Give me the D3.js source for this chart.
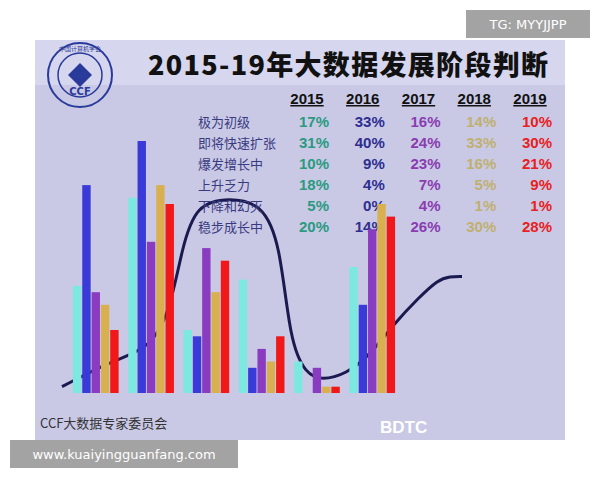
<!DOCTYPE html><html><head><meta charset="utf-8"><script src="https://cdn.jsdelivr.net/npm/d3@7"></script>
<style>body{margin:0;background:#fff}</style></head><body><svg id="c" width="600" height="480"></svg><script>
const years=["2015","2016","2017","2018","2019"];
const stages=["极为初级","即将快速扩张","爆发增长中","上升乏力","下降和幻灭","稳步成长中"];
const v2015=[17,31,10,18,5,20];
const v2016=[33,40,9,4,0,14];
const v2017=[16,24,23,7,4,26];
const v2018=[14,33,16,5,1,30];
const v2019=[10,30,21,9,1,28];
const series=[v2015,v2016,v2017,v2018,v2019];
const colors=["#7de8e0","#3a3ad8","#8a3cc0","#d8b050","#f01818"];
const textColors=["#2a9a80","#2e2e90","#8a3cb0","#c0b070","#e82020"];
const curveX=[0,0.12,0.22,0.27,0.3,0.335,0.42,0.5,0.545,0.57,0.61,0.65,0.71,0.77,0.83,0.89,0.94,0.97,1];
const curveY=[1,5,7,13,23,30,31,30,24,8,3,2,3,6,11,15,18,18.5,18.5];

const svg=d3.select("#c");
svg.append("rect").attr("x",35).attr("y",40).attr("width",530).attr("height",400).attr("fill","#c9c9e6");
svg.append("rect").attr("x",35).attr("y",40).attr("width",530).attr("height",45).attr("fill","#d6d6ee");
const lg=svg.append("g").attr("transform","translate(80,75)");
lg.append("circle").attr("r",32).attr("fill","none").attr("stroke","#2a3a9a").attr("stroke-width",2);
lg.append("circle").attr("r",22).attr("fill","none").attr("stroke","#2a3a9a").attr("stroke-width",1.5);
lg.append("path").attr("d","M-12,0L0,-12L12,0L0,12Z").attr("fill","#2a3a9a");
lg.append("text").attr("y",20).attr("text-anchor","middle").attr("font-size",10).attr("font-weight","bold").attr("fill","#2a3a9a").attr("font-family","DejaVu Sans").text("CCF");
lg.append("text").attr("y",-24).attr("text-anchor","middle").attr("font-size",6).attr("fill","#2a3a9a").attr("font-family","Noto Sans CJK SC").text("中国计算机学会");
svg.append("text").attr("x",148).attr("y",75).attr("font-size",27).attr("font-weight","900").attr("fill","#111").attr("textLength",400).attr("font-family","Noto Sans CJK SC").text("2015-19年大数据发展阶段判断");

const x0=d3.scaleBand().domain(stages).range([72,396]).paddingInner(0.14);
const x1=d3.scaleBand().domain(years).range([0,x0.bandwidth()]).padding(0.1);
const y=d3.scaleLinear().domain([0,40]).range([393,141]);
const cx=d3.scaleLinear().domain([0,1]).range([62,462]);
svg.append("path").datum(curveX.map((d,i)=>[cx(d),y(curveY[i])])).attr("d",d3.line().curve(d3.curveBasis)).attr("fill","none").attr("stroke","#1a1a50").attr("stroke-width",3);

const colX=d3.scalePoint().domain(years).range([307,530]);
const rowY=d3.scaleBand().domain(stages).range([110,236]);
years.forEach(yr=>{
  svg.append("text").attr("x",colX(yr)).attr("y",104).attr("text-anchor","middle").attr("font-size",15).attr("font-weight","bold").attr("text-decoration","underline").attr("fill","#111").attr("font-family","Liberation Sans").text(yr);
});
stages.forEach((s,i)=>{
  const yy=rowY(s)+rowY.bandwidth()-4;
  svg.append("text").attr("x",198).attr("y",yy).attr("font-size",13).attr("fill","#3a3a80").attr("font-family","Noto Sans CJK SC").text(s);
  years.forEach((yr,j)=>{
    svg.append("text").attr("x",colX(yr)+22).attr("y",yy).attr("text-anchor","end").attr("font-size",15).attr("font-weight","bold").attr("fill",textColors[j]).attr("font-family","Liberation Sans").text(series[j][i]+"%");
  });
});
stages.forEach((s,i)=>{
  years.forEach((yr,j)=>{
    const v=series[j][i];
    svg.append("rect").attr("x",x0(s)+x1(yr)).attr("y",y(v)).attr("width",x1.bandwidth()).attr("height",y(0)-y(v)).attr("fill",colors[j]);
  });
});
svg.append("text").attr("x",40).attr("y",428).attr("font-size",13).attr("fill","#333").attr("font-family","Noto Sans CJK SC").text("CCF大数据专家委员会");
svg.append("text").attr("x",380).attr("y",433).attr("font-size",17).attr("font-weight","bold").attr("fill","#fff").attr("font-family","Liberation Sans").text("BDTC");
svg.append("rect").attr("x",466).attr("y",10).attr("width",124).attr("height",28).attr("fill","#999").attr("opacity",0.9);
svg.append("text").attr("x",528).attr("y",29).attr("text-anchor","middle").attr("font-size",13).attr("fill","#fff").attr("font-family","DejaVu Sans").text("TG: MYYJJPP");
svg.append("rect").attr("x",10).attr("y",440).attr("width",228).attr("height",28).attr("fill","#999").attr("opacity",0.9);
svg.append("text").attr("x",124).attr("y",459).attr("text-anchor","middle").attr("font-size",13).attr("fill","#fff").attr("font-family","DejaVu Sans").text("www.kuaiyingguanfang.com");
</script></body></html>
